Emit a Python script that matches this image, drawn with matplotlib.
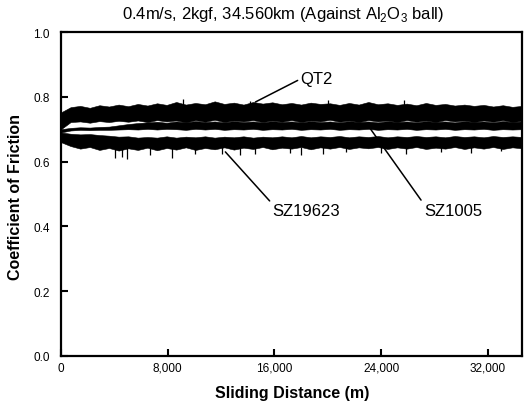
import matplotlib
matplotlib.use("Agg")
import matplotlib.pyplot as plt

plt.rcParams['font.family'] = ['Liberation Sans', 'DejaVu Sans']
plt.rcParams['mathtext.fontset'] = 'custom'
plt.rcParams['mathtext.rm'] = 'Liberation Sans'

# sliding distance sample points (m)
distance = [0, 720, 1440, 2160, 2880, 3600, 4320, 5040, 5760, 6480,
            7200, 7920, 8640, 9360, 10080, 10800, 11520, 12240, 12960, 13680,
            14400, 15120, 15840, 16560, 17280, 18000, 18720, 19440, 20160, 20880,
            21600, 22320, 23040, 23760, 24480, 25200, 25920, 26640, 27360, 28080,
            28800, 29520, 30240, 30960, 31680, 32400, 33120, 33840, 34560]

# upper / lower envelope of each noisy friction trace
qt2_hi = [0.752, 0.768, 0.772, 0.766, 0.774, 0.770, 0.776, 0.771, 0.778, 0.773,
          0.780, 0.775, 0.784, 0.776, 0.781, 0.777, 0.786, 0.778, 0.782, 0.776,
          0.784, 0.779, 0.783, 0.777, 0.781, 0.776, 0.782, 0.778, 0.780, 0.775,
          0.781, 0.776, 0.784, 0.777, 0.780, 0.775, 0.779, 0.774, 0.781, 0.775,
          0.778, 0.773, 0.776, 0.772, 0.775, 0.770, 0.774, 0.769, 0.772]
qt2_lo = [0.700, 0.722, 0.724, 0.720, 0.725, 0.722, 0.726, 0.723, 0.727, 0.722,
          0.728, 0.724, 0.727, 0.721, 0.728, 0.723, 0.729, 0.722, 0.727, 0.724,
          0.728, 0.722, 0.727, 0.723, 0.728, 0.722, 0.727, 0.724, 0.729, 0.723,
          0.727, 0.722, 0.728, 0.724, 0.727, 0.722, 0.728, 0.723, 0.727, 0.722,
          0.728, 0.724, 0.727, 0.722, 0.727, 0.723, 0.728, 0.722, 0.726]

sz1005_hi = [0.700, 0.704, 0.706, 0.705, 0.707, 0.708, 0.712, 0.716, 0.719, 0.721,
             0.723, 0.720, 0.724, 0.721, 0.725, 0.722, 0.724, 0.721, 0.725, 0.722,
             0.724, 0.721, 0.725, 0.722, 0.724, 0.721, 0.725, 0.722, 0.724, 0.721,
             0.725, 0.722, 0.724, 0.721, 0.725, 0.722, 0.724, 0.721, 0.725, 0.722,
             0.724, 0.721, 0.725, 0.722, 0.724, 0.721, 0.725, 0.722, 0.724]
sz1005_lo = [0.690, 0.696, 0.698, 0.697, 0.698, 0.698, 0.699, 0.700, 0.699, 0.701,
             0.699, 0.701, 0.700, 0.698, 0.701, 0.699, 0.701, 0.698, 0.700, 0.699,
             0.701, 0.698, 0.700, 0.699, 0.701, 0.698, 0.700, 0.699, 0.701, 0.698,
             0.700, 0.699, 0.701, 0.698, 0.700, 0.699, 0.701, 0.698, 0.700, 0.699,
             0.701, 0.698, 0.700, 0.699, 0.701, 0.698, 0.700, 0.699, 0.700]

sz19623_hi = [0.690, 0.686, 0.684, 0.685, 0.682, 0.680, 0.677, 0.678, 0.674, 0.676,
              0.674, 0.678, 0.674, 0.677, 0.675, 0.678, 0.674, 0.677, 0.675, 0.678,
              0.674, 0.677, 0.675, 0.678, 0.675, 0.679, 0.675, 0.678, 0.676, 0.679,
              0.675, 0.678, 0.676, 0.679, 0.675, 0.678, 0.676, 0.679, 0.676, 0.678,
              0.675, 0.679, 0.676, 0.678, 0.675, 0.679, 0.676, 0.678, 0.676]
sz19623_lo = [0.660, 0.648, 0.640, 0.645, 0.636, 0.642, 0.634, 0.641, 0.636, 0.643,
              0.635, 0.642, 0.637, 0.644, 0.636, 0.642, 0.638, 0.644, 0.637, 0.643,
              0.639, 0.645, 0.638, 0.643, 0.640, 0.645, 0.638, 0.644, 0.640, 0.645,
              0.639, 0.644, 0.641, 0.645, 0.639, 0.644, 0.640, 0.645, 0.639, 0.643,
              0.640, 0.645, 0.639, 0.644, 0.640, 0.645, 0.639, 0.644, 0.641]

# isolated spikes
down_x = [4057, 4583, 4959, 6687, 8340, 10068, 12096, 13448, 14575,
          17205, 17956, 19609, 21337, 23967, 25845, 28474, 30728, 32983]
down_min = [0.610, 0.615, 0.608, 0.620, 0.610, 0.622, 0.625, 0.620, 0.625,
            0.628, 0.620, 0.625, 0.630, 0.628, 0.625, 0.630, 0.627, 0.632]
up_x = [9170, 14200, 20000, 25700]
up_max = [0.792, 0.788, 0.789, 0.790]

xticks = [0, 8000, 16000, 24000, 32000]
xtick_labels = ['0', '8,000', '16,000', '24,000', '32,000']
yticks = [0.0, 0.2, 0.4, 0.6, 0.8, 1.0]

fig = plt.figure(figsize=(5.3, 4.06), dpi=100)
ax = fig.add_axes([0.1151, 0.1207, 0.8698, 0.798])

for hi, lo in [(qt2_hi, qt2_lo), (sz1005_hi, sz1005_lo), (sz19623_hi, sz19623_lo)]:
    ax.fill_between(distance, lo, hi, facecolor='black', edgecolor='black', linewidth=0.4)

ax.vlines(down_x, down_min, 0.645, color='black', linewidth=0.9)
ax.vlines(up_x, 0.77, up_max, color='black', linewidth=0.9)

arrow = dict(arrowstyle='-', color='black', linewidth=1.1, shrinkA=0, shrinkB=0)
ax.annotate('QT2', xy=(14575, 0.784), xytext=(17950, 0.855), fontsize=12,
            ha='left', va='center', arrowprops=dict(arrow, relpos=(0, 0.5)))
ax.annotate('SZ1005', xy=(23215, 0.700), xytext=(27200, 0.4506), fontsize=12,
            ha='left', va='center', arrowprops=dict(arrow, relpos=(0, 0.9)))
ax.annotate('SZ19623', xy=(12321, 0.630), xytext=(15850, 0.4506), fontsize=12,
            ha='left', va='center', arrowprops=dict(arrow, relpos=(0, 0.9)))

ax.set_xlim(0, 34560)
ax.set_ylim(0, 1.0)
ax.set_xticks(xticks)
ax.set_xticklabels(xtick_labels)
ax.set_yticks(yticks)
ax.set_yticklabels([f'{v:.1f}' for v in yticks])
ax.tick_params(axis='both', direction='in', length=5, width=1.5, labelsize=8.5)
ax.tick_params(axis='x', pad=4)
ax.tick_params(axis='y', pad=8)
for s in ax.spines.values():
    s.set_linewidth(1.6)

fig.text(0.534, 0.9655, r'0.4m/s, 2kgf, 34.560km (Against Al$_2$O$_3$ ball)',
         fontsize=12, ha='center', va='center')
fig.text(0.551, 0.032, 'Sliding Distance (m)', fontsize=11.5, fontweight='bold',
         ha='center', va='center')
fig.text(0.030, 0.515, 'Coefficient of Friction', fontsize=11.5, fontweight='bold',
         ha='center', va='center', rotation=90)

fig.savefig('out.png', dpi=100)
